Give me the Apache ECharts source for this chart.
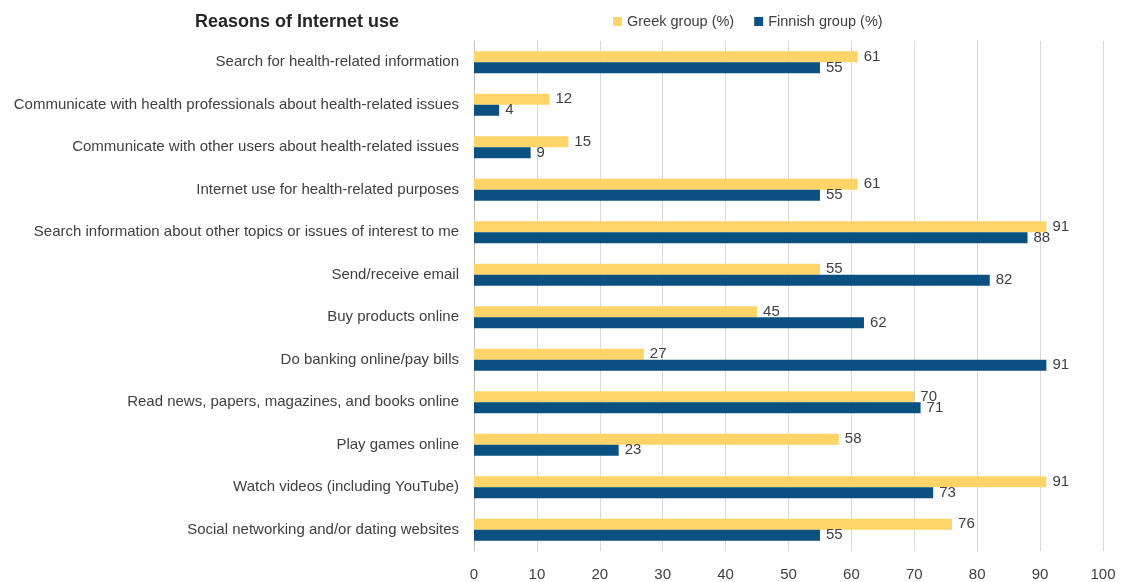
<!DOCTYPE html>
<html><head><meta charset="utf-8">
<script src="https://cdn.jsdelivr.net/npm/echarts@6/dist/echarts.min.js"></script>
<style>html,body{margin:0;padding:0;background:#fff}#c{width:1123px;height:582px}</style>
</head><body><div id="c"></div>
<script>
const categories = [
  "Search for health-related information",
  "Communicate with health professionals about health-related issues",
  "Communicate with other users about health-related issues",
  "Internet use for health-related purposes",
  "Search information about other topics or issues of interest to me",
  "Send/receive email",
  "Buy products online",
  "Do banking online/pay bills",
  "Read news, papers, magazines, and books online",
  "Play games online",
  "Watch videos (including YouTube)",
  "Social networking and/or dating websites"
];
const greek = [61, 12, 15, 61, 91, 55, 45, 27, 70, 58, 91, 76];
const finnish = [55, 4, 9, 55, 88, 82, 62, 91, 71, 23, 73, 55];
const seriesNames = ["Greek group (%)", "Finnish group (%)"];

const font = "Liberation Sans";
const txt = "#404040";
const chart = echarts.init(document.getElementById('c'));
const lbl = {show: true, position: 'right', distance: 6, color: txt, fontSize: 15, fontFamily: font};
chart.setOption({
  animation: false,
  title: {text: "Reasons of Internet use", left: 190, top: 8,
    textStyle: {fontFamily: font, fontSize: 18, fontWeight: 'bold', color: '#262626'}},
  legend: {left: 608, top: 9, itemWidth: 9, itemHeight: 9, itemGap: 20, icon: 'rect',
    textStyle: {fontFamily: font, fontSize: 14.5, color: txt}},
  grid: {left: 474, right: 20, top: 41, bottom: 29},
  xAxis: {type: 'value', min: 0, max: 100, interval: 10,
    axisLine: {show: false}, axisTick: {show: false},
    axisLabel: {color: txt, fontSize: 15, fontFamily: font, margin: 16},
    splitLine: {lineStyle: {color: '#d9d9d9'}}},
  yAxis: {type: 'category', data: categories, inverse: true,
    axisLine: {lineStyle: {color: '#bfbfbf'}}, axisTick: {show: false},
    axisLabel: {color: txt, fontSize: 15, fontFamily: font, margin: 15}},
  series: [
    {name: seriesNames[0], type: 'bar', data: greek, barWidth: 11, barGap: '0%',
      itemStyle: {color: '#FFD468'}, label: lbl},
    {name: seriesNames[1], type: 'bar', data: finnish, barWidth: 11, barGap: '0%',
      itemStyle: {color: '#0A5181'}, label: lbl}
  ]
});
</script></body></html>
